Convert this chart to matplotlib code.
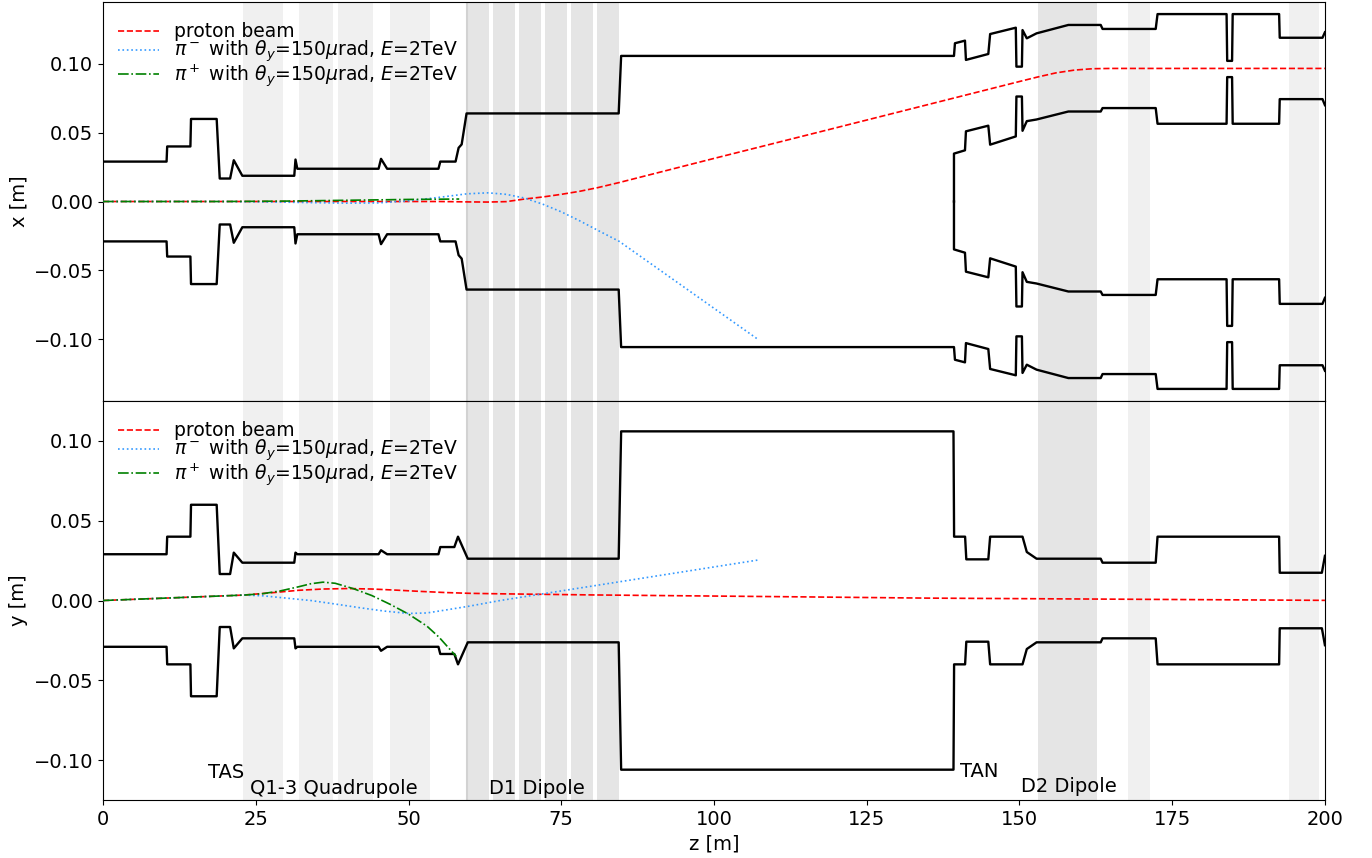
import numpy as np
import matplotlib.pyplot as plt

# magnet / absorber regions along z [m]
quad_spans = [(22.9, 29.5), (32.1, 37.7), (38.5, 44.2), (47.0, 53.5)]
d1_spans = [(59.6, 63.2), (63.85, 67.45), (68.1, 71.7), (72.35, 75.95),
            (76.6, 80.2), (80.85, 84.45)]
d2_spans = [(153.0, 162.7)]
other_spans = [(167.8, 171.4), (194.1, 199.1)]

element_labels = ["TAS", "Q1-3 Quadrupole", "D1 Dipole", "TAN", "D2 Dipole"]
label_z = [17.2, 24.1, 63.1, 140.3, 150.2]
label_y = [-0.111, -0.121, -0.121, -0.1105, -0.120]

# horizontal aperture (upper half, mirrored)
ap_x_z = [0, 10.4, 10.5, 14.3, 14.4, 18.6, 19.1, 20.8, 21.4, 22.8, 31.3, 31.5,
          31.8, 45.1, 45.5, 46.5, 54.9, 55.2, 57.7, 58.2, 58.7, 59.5, 84.4,
          84.8, 139.28, 139.44, 141.08, 141.24, 144.9, 145.2, 149.4, 149.5,
          150.4, 150.5, 151.2, 152.8, 158.0, 163.3, 163.6, 172.3, 172.6, 183.9,
          184.0, 184.8, 184.9, 192.5, 192.6, 199.6, 200]
ap_x = [0.029, 0.029, 0.040, 0.040, 0.060, 0.060, 0.0167, 0.0167, 0.030,
        0.0187, 0.0187, 0.0305, 0.0238, 0.0238, 0.031, 0.0238, 0.0238, 0.029,
        0.029, 0.039, 0.0415, 0.064, 0.064, 0.1058, 0.1058, 0.115, 0.1169,
        0.1029, 0.1072, 0.1217, 0.1263, 0.098, 0.098, 0.1246, 0.1186, 0.1222,
        0.1283, 0.1283, 0.1254, 0.1254, 0.1362, 0.1362, 0.1022, 0.1022,
        0.1362, 0.1362, 0.119, 0.119, 0.123]

# inner pipe wall after the TAN (upper half, mirrored)
ap_x_in_z = [139.28, 139.28, 141.08, 141.24, 144.9, 145.2, 149.4, 149.5,
             150.4, 150.5, 151.2, 152.8, 158.0, 163.3, 163.6, 172.3, 172.6,
             183.9, 184.0, 184.8, 184.9, 192.5, 192.6, 199.6, 200]
ap_x_in = [0.0, 0.0348, 0.0372, 0.051, 0.0551, 0.0413, 0.0473, 0.0763,
           0.0763, 0.0514, 0.0584, 0.0596, 0.0654, 0.0654, 0.0679, 0.0679,
           0.0565, 0.0565, 0.0904, 0.0904, 0.0565, 0.0565, 0.0744, 0.0744,
           0.070]

# vertical aperture (upper half, mirrored)
ap_y_z = [0, 10.4, 10.5, 14.3, 14.4, 18.6, 19.1, 20.8, 21.4, 22.8, 31.3, 31.5,
          31.8, 45.1, 45.5, 46.5, 54.9, 55.2, 57.5, 58.1, 59.7, 84.4, 84.8,
          139.2, 139.3, 141.1, 141.3, 144.9, 145.2, 150.5, 151.2, 152.8, 163.3,
          163.6, 172.3, 172.6, 192.5, 192.6, 199.5, 200]
ap_y = [0.029, 0.029, 0.040, 0.040, 0.060, 0.060, 0.0166, 0.0166, 0.030,
        0.0237, 0.0237, 0.030, 0.029, 0.029, 0.0315, 0.029, 0.029, 0.0335,
        0.0335, 0.040, 0.0262, 0.0262, 0.106, 0.106, 0.040, 0.040, 0.0258,
        0.0258, 0.040, 0.040, 0.0304, 0.0262, 0.0262, 0.0237, 0.0237, 0.040,
        0.040, 0.0174, 0.0174, 0.028]

# trajectories, horizontal plane
p_x_z = [0, 20, 40, 55, 60, 63, 66, 69, 72, 75, 78, 81, 84.5, 100, 120, 140,
         150, 153, 156, 159, 162, 165, 200]
p_x = [0, 0, 0, 0, -0.0003, -0.0004, -0.0001, 0.0018, 0.0033, 0.0052, 0.0074,
       0.0101, 0.0138, 0.0313, 0.0536, 0.076, 0.0872, 0.0905, 0.0935, 0.0955,
       0.0965, 0.0967, 0.0967]
pim_x_z = [0, 20, 30, 40, 45, 50, 55, 59.6, 63, 66, 69, 72, 75, 78, 81, 84.5,
           107.3]
pim_x = [0, 0, -0.0005, -0.0012, -0.001, 0.0005, 0.003, 0.0056, 0.0063,
         0.0052, 0.0025, -0.002, -0.0075, -0.014, -0.021, -0.029, -0.1005]
pip_x_z = [0, 20, 30, 40, 50, 58.3]
pip_x = [0, 0, 0.0003, 0.0009, 0.0015, 0.0018]

# trajectories, vertical plane
p_y_z = [0, 23, 28, 32, 36, 40, 44, 48, 52, 56, 60, 65, 80, 114, 135, 200]
p_y = [0, 0.0034, 0.005, 0.0064, 0.0072, 0.0075, 0.0072, 0.0065, 0.0057,
       0.005, 0.0045, 0.0042, 0.0035, 0.0023, 0.0015, 0.0001]
pim_y_z = [0, 23, 26, 30, 34, 38, 42, 46, 50, 53, 56, 60, 65, 107.1]
pim_y = [0, 0.0034, 0.003, 0.0015, 0.0, -0.0022, -0.0045, -0.0066, -0.0081,
         -0.0078, -0.006, -0.0035, 0.0, 0.0253]
pip_y_z = [0, 23, 26, 29, 32, 34, 36, 38, 41, 44, 47, 50, 53, 55, 57.8]
pip_y = [0, 0.0034, 0.0042, 0.006, 0.0086, 0.0105, 0.0115, 0.0108, 0.0074,
         0.0031, -0.0024, -0.0085, -0.016, -0.023, -0.035]

labels = ["proton beam",
          r"$\pi^-$ with $\theta_y$=150$\mu$rad, $E$=2TeV",
          r"$\pi^+$ with $\theta_y$=150$\mu$rad, $E$=2TeV"]

plt.rcParams["font.size"] = 14

fig = plt.figure(figsize=(13.72, 8.58), dpi=100)
ax1 = fig.add_axes([0.0751, 0.5326, 0.8906, 0.4651])
ax2 = fig.add_axes([0.0751, 0.0676, 0.8906, 0.4650], sharex=ax1)


def shade(ax):
    for a, b in quad_spans + other_spans:
        ax.axvspan(a, b, color="#f0f0f0", lw=0, zorder=0)
    for a, b in d1_spans + d2_spans:
        ax.axvspan(a, b, color="#e5e5e5", lw=0, zorder=0)
    ax.axvline(d1_spans[0][0], color="#d2d2d2", lw=1.5, zorder=0)


def draw_tracks(ax, zs, ys):
    styles = [("r", "--"), ("#3399ff", ":"), ("g", "-.")]
    for (z, v), (c, ls), lab in zip(zip(zs, ys), styles, labels):
        ax.plot(z, v, color=c, ls=ls, lw=1.2, label=lab, zorder=3)
    ax.legend(loc="upper left", bbox_to_anchor=(0.0, 0.987), frameon=False,
              labelspacing=-0.12, fontsize=13.5, borderaxespad=0.4,
              handlelength=2.2)


# horizontal plane
shade(ax1)
ax1.plot(ap_x_z, ap_x, color="k", lw=1.7, zorder=2)
ax1.plot(ap_x_z, -np.array(ap_x), color="k", lw=1.7, zorder=2)
ax1.plot(ap_x_in_z, ap_x_in, color="k", lw=1.7, zorder=2)
ax1.plot(ap_x_in_z, -np.array(ap_x_in), color="k", lw=1.7, zorder=2)
draw_tracks(ax1, [p_x_z, pim_x_z, pip_x_z], [p_x, pim_x, pip_x])
ax1.set_ylim(-0.145, 0.145)
ax1.set_yticks([-0.10, -0.05, 0.0, 0.05, 0.10])
ax1.set_ylabel("x [m]")
ax1.tick_params(axis="x", bottom=False, labelbottom=False)

# vertical plane
shade(ax2)
ax2.plot(ap_y_z, ap_y, color="k", lw=1.7, zorder=2)
ax2.plot(ap_y_z, -np.array(ap_y), color="k", lw=1.7, zorder=2)
draw_tracks(ax2, [p_y_z, pim_y_z, pip_y_z], [p_y, pim_y, pip_y])
for lab, z, y in zip(element_labels, label_z, label_y):
    ax2.text(z, y, lab, ha="left", va="baseline", fontsize=14)
ax2.set_ylim(-0.125, 0.125)
ax2.set_yticks([-0.10, -0.05, 0.0, 0.05, 0.10])
ax2.set_ylabel("y [m]")
ax2.set_xlabel("z [m]")
ax2.set_xlim(0, 200)

fig.savefig("out.png", dpi=100)
